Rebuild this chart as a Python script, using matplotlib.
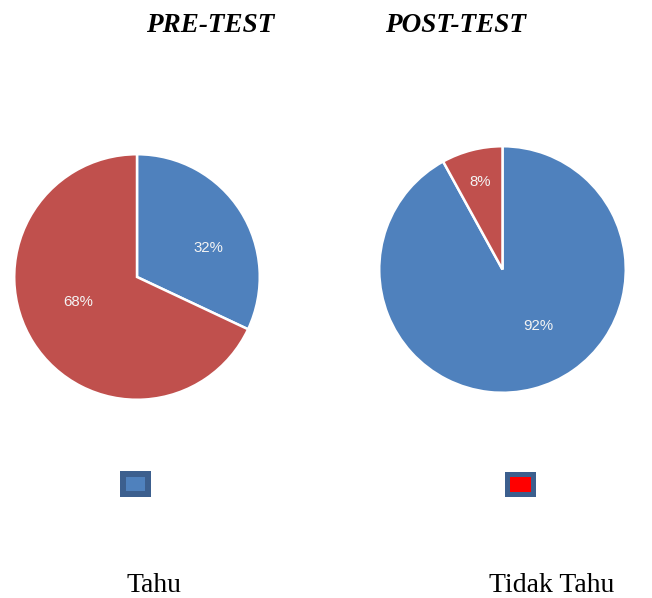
import matplotlib
matplotlib.use("Agg")
import matplotlib.pyplot as plt
from matplotlib.patches import Rectangle
import numpy as np

# ---- data ----
titles = ["PRE-TEST", "POST-TEST"]
categories = ["Tahu", "Tidak Tahu"]
pre_values = [32, 68]    # Tahu, Tidak Tahu
post_values = [92, 8]    # Tahu, Tidak Tahu

# ---- style ----
W, H = 652, 598
BLUE = "#4F81BD"
RED = "#C0504D"
LEG_BORDER = "#3C5F8E"
LEG_FILL = ["#4F81BD", "#FF0000"]

fig = plt.figure(figsize=(W / 100, H / 100), dpi=100)
fig.patch.set_facecolor("white")

def px_axes(left, top, size):
    return fig.add_axes([left / W, 1 - (top + size) / H, size / W, size / H])

# (values, axes, label radial distances, label angle offsets in degrees)
pies = [
    (pre_values, px_axes(13, 153, 248), [0.63, 0.52], [-10, -9]),
    (post_values, px_axes(378, 145, 249), [0.54, 0.73], [18, 0]),
]

for values, ax, dists, offs in pies:
    wedges, _ = ax.pie(values, colors=[BLUE, RED], startangle=90, counterclock=False,
                       radius=1.0, wedgeprops=dict(edgecolor="white", linewidth=1.8))
    total = sum(values)
    for w, v, d, o in zip(wedges, values, dists, offs):
        mid = np.deg2rad((w.theta1 + w.theta2) / 2 + o)
        ax.text(d * np.cos(mid), d * np.sin(mid), f"{v / total * 100:.0f}%",
                ha="center", va="center", color="#F4F4F4", fontsize=10.8,
                family="Liberation Sans")
    ax.set_xlim(-1.01, 1.01)
    ax.set_ylim(-1.01, 1.01)
    ax.set_aspect("equal")
    ax.axis("off")

# titles
title_x = [210, 456]
for t, x in zip(titles, title_x):
    fig.text(x / W, 1 - 25 / H, t, ha="center", va="center", fontsize=19.5,
             family="Liberation Serif", weight="bold", style="italic", color="black")

# legend squares
sq = [(120, 471, 31, 26, 6), (505, 472, 31, 25, 5)]
for (x, y, w, h, b), fc in zip(sq, LEG_FILL):
    fig.patches.append(Rectangle((x / W, 1 - (y + h) / H), w / W, h / H,
                                 transform=fig.transFigure, facecolor=LEG_BORDER,
                                 edgecolor="none"))
    fig.patches.append(Rectangle(((x + b) / W, 1 - (y + h - b) / H), (w - 2 * b) / W,
                                 (h - 2 * b) / H, transform=fig.transFigure,
                                 facecolor=fc, edgecolor="none"))

# category labels
cat_x = [154, 552]
for c, x in zip(categories, cat_x):
    fig.text(x / W, 1 - 585 / H, c, ha="center", va="center", fontsize=20,
             family="Liberation Serif", color="black")

fig.savefig("out.png", dpi=100, facecolor="white")
